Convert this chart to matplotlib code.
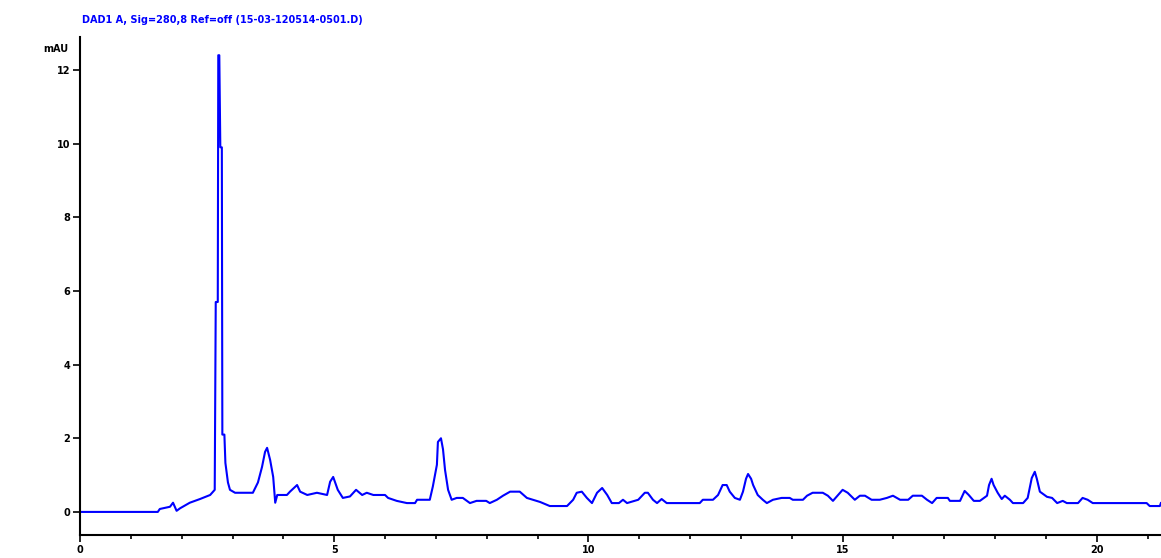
import matplotlib
matplotlib.use('Agg')
import matplotlib.pyplot as plt
from matplotlib.ticker import MultipleLocator

# retention time (min) and signal (mAU)
time_min = [0.00, 1.53, 1.57, 1.77, 1.83, 1.90, 1.97, 2.16, 2.36, 2.56, 2.65,
            2.67, 2.71, 2.72, 2.74, 2.76, 2.79, 2.80, 2.84, 2.86, 2.91, 2.95,
            3.05, 3.40, 3.50, 3.58, 3.64, 3.68, 3.74, 3.80, 3.84, 3.88, 4.07,
            4.13, 4.27, 4.33, 4.47, 4.66, 4.86, 4.92, 4.98, 5.07, 5.17, 5.31,
            5.43, 5.55, 5.64, 5.77, 6.00, 6.06, 6.23, 6.43, 6.59, 6.63, 6.88,
            6.94, 7.02, 7.04, 7.10, 7.14, 7.18, 7.24, 7.31, 7.41, 7.53, 7.67,
            7.80, 7.99, 8.06, 8.20, 8.32, 8.46, 8.65, 8.79, 9.05, 9.24, 9.58,
            9.70, 9.77, 9.87, 9.97, 10.07, 10.17, 10.27, 10.37, 10.46, 10.60,
            10.68, 10.76, 10.98, 11.11, 11.17, 11.27, 11.35, 11.44, 11.54,
            12.19, 12.25, 12.45, 12.55, 12.64, 12.72, 12.78, 12.88, 12.98,
            13.04, 13.10, 13.14, 13.20, 13.24, 13.33, 13.43, 13.51, 13.63,
            13.80, 13.96, 14.02, 14.22, 14.30, 14.41, 14.61, 14.71, 14.81,
            14.91, 15.00, 15.10, 15.24, 15.34, 15.44, 15.57, 15.73, 15.87,
            15.99, 16.13, 16.29, 16.38, 16.56, 16.66, 16.76, 16.85, 17.07,
            17.11, 17.31, 17.40, 17.48, 17.58, 17.70, 17.84, 17.88, 17.93,
            17.97, 18.05, 18.13, 18.19, 18.29, 18.35, 18.55, 18.64, 18.72,
            18.78, 18.82, 18.88, 19.02, 19.12, 19.22, 19.33, 19.41, 19.63,
            19.72, 19.82, 19.92, 20.98, 21.04, 21.24, 21.26]
signal_mau = [0.00, 0.00, 0.08, 0.14, 0.25, 0.03, 0.10, 0.25, 0.35, 0.46, 0.60,
              5.70, 5.70, 12.40, 12.40, 9.90, 9.90, 2.10, 2.10, 1.33, 0.80, 0.60,
              0.52, 0.52, 0.80, 1.22, 1.63, 1.74, 1.41, 0.95, 0.25, 0.46, 0.46,
              0.55, 0.73, 0.55, 0.46, 0.52, 0.46, 0.82, 0.95, 0.60, 0.38, 0.42,
              0.60, 0.46, 0.52, 0.46, 0.46, 0.38, 0.30, 0.24, 0.24, 0.33, 0.33,
              0.69, 1.28, 1.90, 2.00, 1.70, 1.14, 0.60, 0.33, 0.38, 0.38, 0.24,
              0.30, 0.30, 0.24, 0.33, 0.44, 0.55, 0.55, 0.38, 0.27, 0.16, 0.16,
              0.33, 0.52, 0.55, 0.38, 0.24, 0.52, 0.65, 0.46, 0.24, 0.24,
              0.33, 0.24, 0.33, 0.52, 0.52, 0.33, 0.24, 0.35, 0.24,
              0.24, 0.33, 0.33, 0.46, 0.73, 0.73, 0.55, 0.38, 0.33,
              0.55, 0.90, 1.03, 0.90, 0.73, 0.46, 0.33, 0.24, 0.33,
              0.38, 0.38, 0.33, 0.33, 0.44, 0.52, 0.52, 0.44, 0.30,
              0.46, 0.60, 0.52, 0.33, 0.44, 0.44, 0.33, 0.33, 0.38,
              0.44, 0.33, 0.33, 0.44, 0.44, 0.33, 0.24, 0.38, 0.38,
              0.30, 0.30, 0.57, 0.46, 0.30, 0.30, 0.44, 0.73, 0.90,
              0.73, 0.52, 0.35, 0.44, 0.33, 0.24, 0.24, 0.38, 0.92,
              1.09, 0.90, 0.55, 0.41, 0.38, 0.24, 0.30, 0.24, 0.24,
              0.38, 0.33, 0.24, 0.24, 0.16, 0.16, 0.24]

y_ticks = [0, 2, 4, 6, 8, 10, 12]
x_ticks = [0, 5, 10, 15, 20]

fig = plt.figure(figsize=(11.61, 5.58), dpi=100)
ax = fig.add_axes([0.0689, 0.041, 0.931, 0.893])

ax.plot(time_min, signal_mau, color='#0000ff', linewidth=1.5)

ax.set_xlim(0, 21.26)
ax.set_ylim(-0.63, 12.9)
ax.set_xticks(x_ticks)
ax.set_yticks(y_ticks)
ax.xaxis.set_minor_locator(MultipleLocator(1))

# only left and bottom axis lines
ax.spines['top'].set_visible(False)
ax.spines['right'].set_visible(False)
ax.spines['left'].set_linewidth(1.5)
ax.spines['bottom'].set_linewidth(1.5)

ax.tick_params(axis='both', which='major', labelsize=7, width=1.2, length=5, pad=2)
ax.tick_params(axis='x', which='minor', width=1.2, length=3)
for lbl in ax.get_xticklabels() + ax.get_yticklabels():
    lbl.set_fontweight('bold')

ax.text(-0.034, 0.975, 'mAU', transform=ax.transAxes, fontsize=7,
        fontweight='bold', ha='left', va='center')
fig.text(0.071, 0.964, 'DAD1 A, Sig=280,8 Ref=off (15-03-120514-0501.D)',
         color='#0000ff', fontsize=7, fontweight='bold', ha='left', va='center')

fig.savefig('out.png', dpi=100)
